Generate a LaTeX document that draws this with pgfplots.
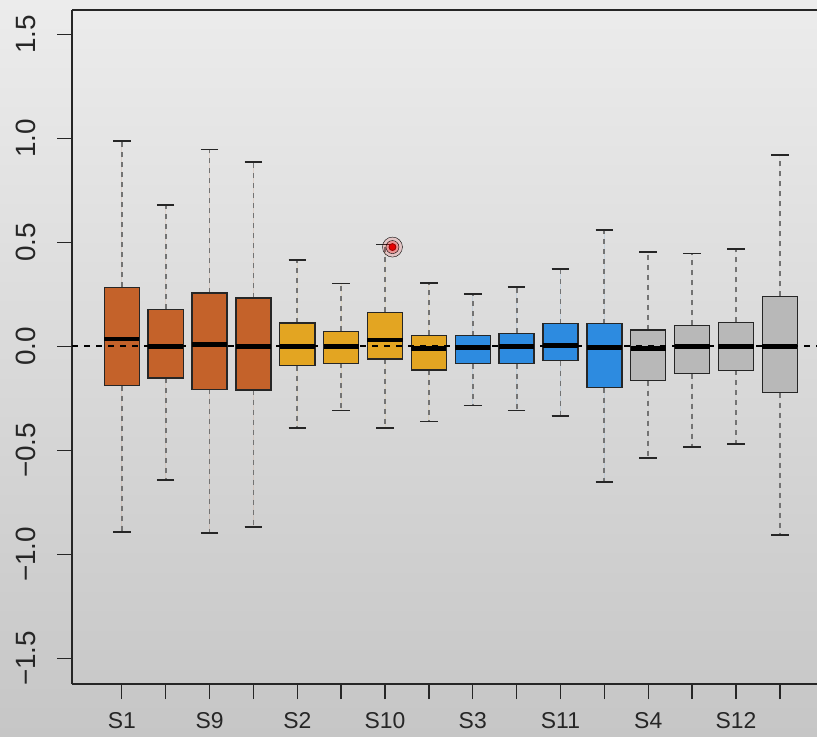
\documentclass[border=0pt]{standalone}
\usepackage{fontspec}
\setmainfont{Liberation Sans}
\usepackage{pgfplots}
\pgfplotsset{compat=1.18}
\usepgfplotslibrary{statistics}
\definecolor{cbrown}{HTML}{C4622A}
\definecolor{cgold}{HTML}{E3A522}
\definecolor{cblue}{HTML}{2D8BE0}
\definecolor{cgray}{HTML}{B8B8B8}
\definecolor{bgtop}{HTML}{ECECEC}
\definecolor{bgmid}{HTML}{E4E4E4}
\definecolor{bgbot}{HTML}{C6C6C6}
\tikzset{
  whiskerline/.style={draw=black!55, line width=1.8bp, dash pattern=on 5bp off 5bp},
  capline/.style={draw=black!85, line width=1.6bp, solid},
}
\pgfplotsset{
  mybox/.style={
    boxplot/draw direction=y,
    boxplot/box extend=0.8,
    boxplot/whisker extend=0.4,
    boxplot/every median/.style={draw=black, line width=4.5bp},
    boxplot/every box/.style={draw=black!85, line width=1.4bp},
    boxplot/draw/lower whisker/.code={%
      \draw[whiskerline] (boxplot box cs:\pgfplotsboxplotvalue{lower quartile},0.5) -- (boxplot box cs:\pgfplotsboxplotvalue{lower whisker},0.5);
      \draw[capline] (boxplot whisker cs:\pgfplotsboxplotvalue{lower whisker},0) -- (boxplot whisker cs:\pgfplotsboxplotvalue{lower whisker},1);
    },
    boxplot/draw/upper whisker/.code={%
      \draw[whiskerline] (boxplot box cs:\pgfplotsboxplotvalue{upper quartile},0.5) -- (boxplot box cs:\pgfplotsboxplotvalue{upper whisker},0.5);
      \draw[capline] (boxplot whisker cs:\pgfplotsboxplotvalue{upper whisker},0) -- (boxplot whisker cs:\pgfplotsboxplotvalue{upper whisker},1);
    },
  },
}
\begin{document}
\begin{tikzpicture}
\useasboundingbox (0,0) rectangle (817bp,737bp);
\shade[top color=bgtop, middle color=bgmid, bottom color=bgbot] (0,0) rectangle (817bp,737bp);
\begin{axis}[
  at={(72bp,53bp)}, anchor=south west,
  scale only axis, width=745bp, height=674bp,
  xmin=-0.135, xmax=16.847, ymin=-1.623, ymax=1.618,
  axis x line*=bottom, axis y line*=left,
  axis line style={draw=black!85, line width=1.3bp, -},
  tick align=outside, major tick length=15bp,
  tick style={draw=black!85, line width=1.3bp},
  xtick={1,...,16},
  xticklabels={S1,,S9,,S2,,S10,,S3,,S11,,S4,,S12,},
  ytick={-1.5,-1,-0.5,0,0.5,1,1.5},
  yticklabels={−1.5,−1.0,−0.5,0.0,0.5,1.0,1.5},
  xticklabel style={font=\fontsize{23}{25}\selectfont, text=black!85, yshift=-10bp},
  yticklabel style={font=\fontsize{28}{30}\selectfont, text=black!85, rotate=90, anchor=south, inner ysep=21bp},
  clip=false,
  mybox,
]
\addplot[boxplot prepared={draw position=1, lower whisker=-0.892, lower quartile=-0.188, median=0.035, upper quartile=0.285, upper whisker=0.988}, fill=cbrown] coordinates {};
\addplot[boxplot prepared={draw position=2, lower whisker=-0.643, lower quartile=-0.151, median=0.0, upper quartile=0.179, upper whisker=0.679}, fill=cbrown] coordinates {};
\addplot[boxplot prepared={draw position=3, lower whisker=-0.898, lower quartile=-0.206, median=0.009, upper quartile=0.257, upper whisker=0.948}, fill=cbrown] coordinates {};
\addplot[boxplot prepared={draw position=4, lower whisker=-0.868, lower quartile=-0.209, median=0.0, upper quartile=0.233, upper whisker=0.887}, fill=cbrown] coordinates {};
\addplot[boxplot prepared={draw position=5, lower whisker=-0.392, lower quartile=-0.092, median=0.0, upper quartile=0.113, upper whisker=0.417}, fill=cgold] coordinates {};
\addplot[boxplot prepared={draw position=6, lower whisker=-0.307, lower quartile=-0.081, median=0.0, upper quartile=0.073, upper whisker=0.302}, fill=cgold] coordinates {};
\addplot[boxplot prepared={draw position=7, lower whisker=-0.392, lower quartile=-0.060, median=0.030, upper quartile=0.164, upper whisker=0.490}, fill=cgold] coordinates {};
\addplot[boxplot prepared={draw position=8, lower whisker=-0.360, lower quartile=-0.113, median=-0.010, upper quartile=0.054, upper whisker=0.305}, fill=cgold] coordinates {};
\addplot[boxplot prepared={draw position=9, lower whisker=-0.283, lower quartile=-0.083, median=-0.004, upper quartile=0.052, upper whisker=0.252}, fill=cblue] coordinates {};
\addplot[boxplot prepared={draw position=10, lower whisker=-0.307, lower quartile=-0.083, median=0.0, upper quartile=0.063, upper whisker=0.286}, fill=cblue] coordinates {};
\addplot[boxplot prepared={draw position=11, lower whisker=-0.333, lower quartile=-0.068, median=0.004, upper quartile=0.110, upper whisker=0.373}, fill=cblue] coordinates {};
\addplot[boxplot prepared={draw position=12, lower whisker=-0.653, lower quartile=-0.198, median=-0.004, upper quartile=0.110, upper whisker=0.560}, fill=cblue] coordinates {};
\addplot[boxplot prepared={draw position=13, lower whisker=-0.536, lower quartile=-0.164, median=-0.009, upper quartile=0.079, upper whisker=0.453}, fill=cgray] coordinates {};
\addplot[boxplot prepared={draw position=14, lower whisker=-0.483, lower quartile=-0.131, median=0.0, upper quartile=0.102, upper whisker=0.448}, fill=cgray] coordinates {};
\addplot[boxplot prepared={draw position=15, lower whisker=-0.469, lower quartile=-0.115, median=0.0, upper quartile=0.116, upper whisker=0.470}, fill=cgray] coordinates {};
\addplot[boxplot prepared={draw position=16, lower whisker=-0.906, lower quartile=-0.222, median=0.0, upper quartile=0.241, upper whisker=0.921}, fill=cgray] coordinates {};
% zero reference line
\addplot[draw=black, line width=2bp, dash pattern=on 6bp off 6bp] coordinates {(-0.135,0) (16.847,0)};
% top border
\draw[draw=black!85, line width=1.3bp] (rel axis cs:0,1) -- (rel axis cs:1,1);
% highlighted point
\addplot[only marks, mark=*, mark size=10bp, mark options={draw=none, fill=red, fill opacity=0.12}] coordinates {(7.17,0.478)};
\addplot[only marks, mark=*, mark size=6.5bp, mark options={draw=none, fill=red, fill opacity=0.25}] coordinates {(7.17,0.478)};
\addplot[only marks, mark=*, mark size=3.5bp, mark options={draw=red!60!black, fill=red!90!black, line width=0.8bp}] coordinates {(7.17,0.478)};
\end{axis}
\end{tikzpicture}
\end{document}
